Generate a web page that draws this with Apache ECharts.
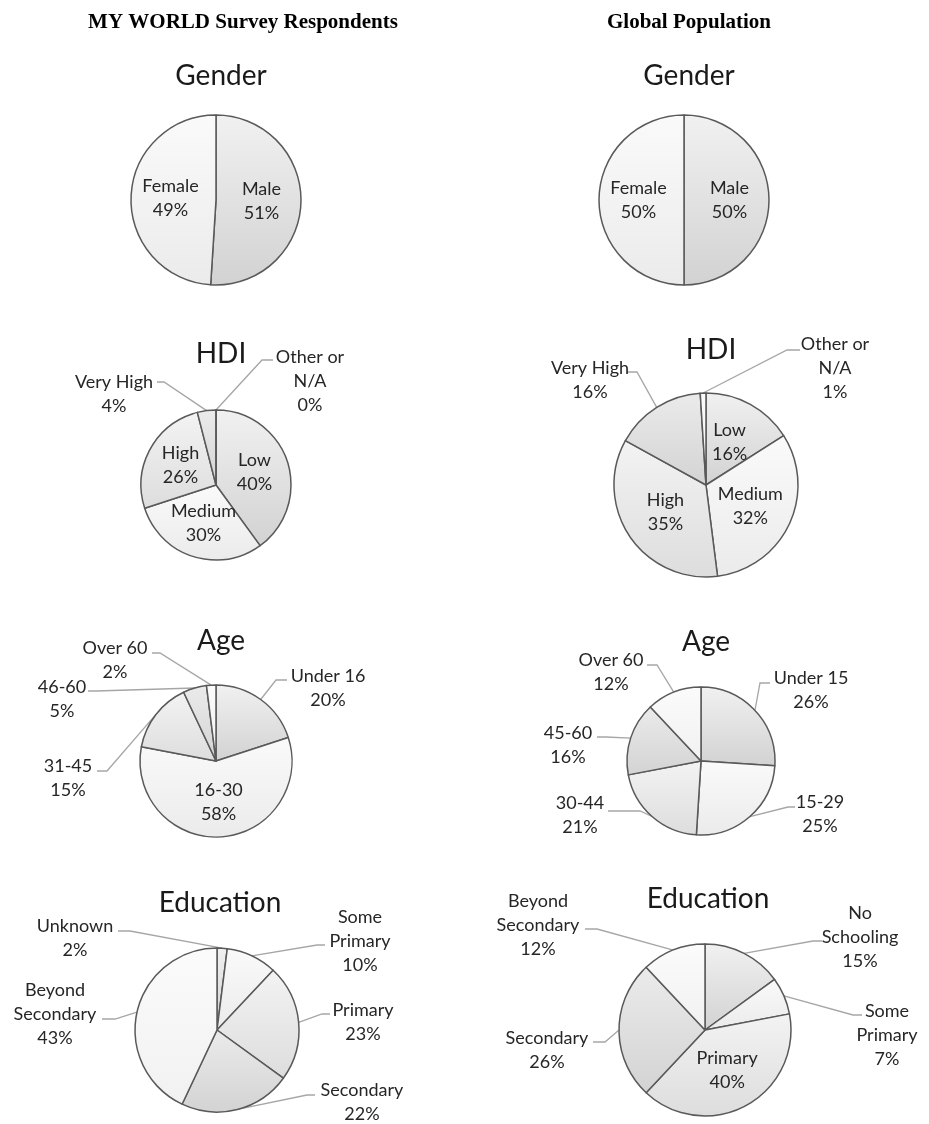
<!DOCTYPE html>
<html>
<head>
<meta charset="utf-8">
<script src="https://cdn.jsdelivr.net/npm/echarts@6/dist/echarts.min.js"></script>
<style>
  html, body { margin: 0; padding: 0; background: #ffffff; }
  #chart { width: 929px; height: 1124px; }
</style>
</head>
<body>
<div id="chart"></div>
<script>
// ---- Data: survey respondents vs. global population ----
const columnHeaders = ['MY WORLD Survey Respondents', 'Global Population'];
const sectionTitles = ['Gender', 'HDI', 'Age', 'Education'];

const genderNames = ['Male', 'Female'];
const genderSurvey = [51, 49];
const genderGlobal = [50, 50];

const hdiNames = ['Low', 'Medium', 'High', 'Very High', 'Other or\nN/A'];
const hdiSurvey = [40, 30, 26, 4, 0];
const hdiGlobal = [16, 32, 35, 16, 1];

const ageSurveyNames = ['Under 16', '16-30', '31-45', '46-60', 'Over 60'];
const ageSurvey = [20, 58, 15, 5, 2];
const ageGlobalNames = ['Under 15', '15-29', '30-44', '45-60', 'Over 60'];
const ageGlobal = [26, 25, 21, 16, 12];

const eduSurveyNames = ['Unknown', 'Some\nPrimary', 'Primary', 'Secondary', 'Beyond\nSecondary'];
const eduSurvey = [2, 10, 23, 22, 43];
const eduGlobalNames = ['No\nSchooling', 'Some\nPrimary', 'Primary', 'Secondary', 'Beyond\nSecondary'];
const eduGlobal = [15, 7, 40, 26, 12];

// ---- Styling ----
const LABEL_FONT = 'Lato, "Open Sans", sans-serif';
const TEXT_COLOR = '#262626';
// grey shading cycle for slices (top colour, bottom colour)
const SHADES = [
  ['#f1f1f1', '#d2d2d2'],
  ['#fafafa', '#ebebeb'],
  ['#f3f3f3', '#dddddd'],
  ['#ebebeb', '#d3d3d3'],
  ['#fbfbfb', '#f1f1f1']
];
function shade(i) {
  const s = SHADES[i % SHADES.length];
  return { type: 'linear', x: 0, y: 0, x2: 0, y2: 1,
           colorStops: [{ offset: 0, color: s[0] }, { offset: 1, color: s[1] }] };
}

// ---- Pie placement; outside labels: [labelX, labelY, lineEndX, lineEndY, elbowX] ----
const pies = [
  { names: genderNames, values: genderSurvey, center: [216, 200], r: 85, inside: [0, 1], out: {} },
  { names: genderNames, values: genderGlobal, center: [684, 200], r: 85, inside: [0, 1], out: {} },
  { names: hdiNames, values: hdiSurvey, center: [216, 485], r: 75, inside: [0, 1, 2],
    out: { 3: [114, 394, 157, 382, 164], 4: [310, 381, 273, 360, 262] } },
  { names: hdiNames, values: hdiGlobal, center: [706, 485], r: 92, inside: [0, 1, 2],
    out: { 3: [590, 380, 627, 372, 637], 4: [835, 368, 800, 350, 787] } },
  { names: ageSurveyNames, values: ageSurvey, center: [216, 761], r: 76, inside: [1],
    out: { 0: [328, 688, 287, 680, 276], 2: [68, 778, 97, 771, 107],
           3: [62, 699, 88, 691, 96], 4: [115, 660, 152, 653, 160] } },
  { names: ageGlobalNames, values: ageGlobal, center: [701, 761], r: 74, inside: [],
    out: { 0: [811, 690, 770, 683, 760], 1: [820, 814, 795, 807, 788],
           2: [580, 815, 608, 811, 640], 3: [568, 745, 597, 737, 606],
           4: [611, 672, 647, 665, 657] } },
  { names: eduSurveyNames, values: eduSurvey, center: [217, 1030], r: 82, inside: [],
    out: { 0: [75, 938, 118, 931, 130], 1: [360, 941, 325, 945, 317],
           2: [363, 1022, 330, 1014, 322], 3: [362, 1102, 315, 1095, 307],
           4: [55, 1014, 102, 1019, 115] } },
  { names: eduGlobalNames, values: eduGlobal, center: [705, 1030], r: 86, inside: [2],
    out: { 0: [860, 937, 822, 941, 813], 1: [887, 1035, 862, 1015, 853],
           3: [547, 1050, 593, 1042, 605], 4: [538, 925, 585, 929, 597] } }
];

// mid angle of each slice, clockwise from 12 o'clock, in radians
function midAngles(values) {
  const total = values.reduce((a, b) => a + b, 0);
  let acc = 0;
  return values.map(v => {
    const m = (acc + v / 2) / total * Math.PI * 2;
    acc += v;
    return m;
  });
}

const series = pies.map(p => {
  const mids = midAngles(p.values);
  return {
    type: 'pie',
    center: p.center,
    radius: p.r,
    startAngle: 90,
    clockwise: true,
    avoidLabelOverlap: false,
    silent: true,
    animation: false,
    itemStyle: { borderColor: '#595959', borderWidth: 1.5 },
    label: {
      formatter: '{b}\n{c}%',
      fontFamily: LABEL_FONT,
      fontSize: 18,
      lineHeight: 24,
      color: TEXT_COLOR
    },
    labelLine: { show: true, length: 10, length2: 10, smooth: false,
                 lineStyle: { color: '#a6a6a6', width: 1.3 } },
    emphasis: { disabled: true },
    data: p.values.map((v, i) => {
      const isIn = p.inside.indexOf(i) >= 0;
      return {
        name: p.names[i],
        value: v,
        itemStyle: { color: shade(i) },
        label: { position: isIn ? 'inside' : 'outside' },
        labelLine: { show: !isIn }
      };
    }),
    labelLayout: function (params) {
      const spec = p.out[params.dataIndex];
      if (!spec) return {};
      const a = mids[params.dataIndex];
      const sx = p.center[0] + p.r * Math.sin(a);
      const sy = p.center[1] - p.r * Math.cos(a);
      return {
        x: spec[0], y: spec[1], align: 'center', verticalAlign: 'middle',
        labelLinePoints: [[sx, sy], [spec[4], spec[3]], [spec[2], spec[3]]]
      };
    }
  };
});

// ---- Titles ----
const titleCenters = [
  [216, 75], [684, 75],
  [216, 353], [706, 349],
  [216, 640], [701, 641],
  [215, 902], [703, 898]
];
const titles = [
  { text: columnHeaders[0], left: 238, top: 7 },
  { text: columnHeaders[1], left: 684, top: 7 }
].map(t => ({
  text: t.text, left: t.left, top: t.top, textAlign: 'center',
  textStyle: { fontFamily: '"Liberation Serif", "Times New Roman", serif', fontWeight: 'bold',
               fontSize: 21, color: '#000000' }
}));
titleCenters.forEach((c, i) => {
  titles.push({
    text: sectionTitles[Math.floor(i / 2)], left: c[0], top: c[1] - 18, textAlign: 'center',
    textStyle: { fontFamily: LABEL_FONT, fontWeight: 'normal', fontSize: 28, color: '#1a1a1a' }
  });
});

const chart = echarts.init(document.getElementById('chart'), null, { renderer: 'canvas' });
chart.setOption({
  backgroundColor: '#ffffff',
  animation: false,
  title: titles,
  series: series
});
</script>
</body>
</html>
